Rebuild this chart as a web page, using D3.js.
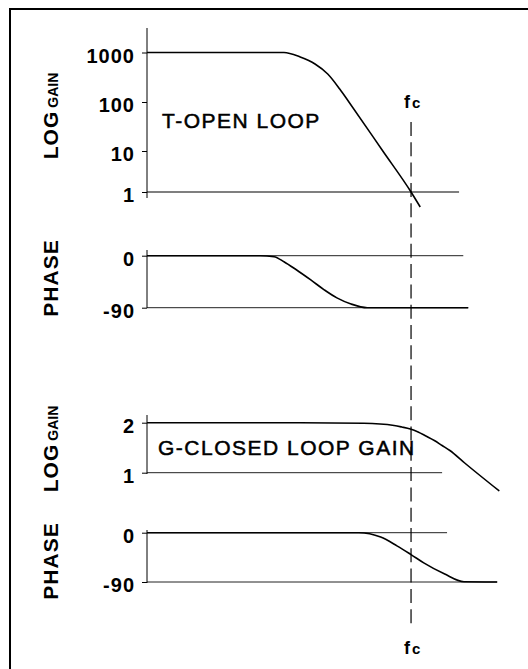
<!DOCTYPE html>
<html>
<head>
<meta charset="utf-8">
<script src="https://cdn.jsdelivr.net/npm/d3@7"></script>
<style>
    body { margin: 0; background: #fff; }
    svg { display: block; }
</style>
</head>
<body>
<div id="chart"></div>
<script>
// x is log frequency, in decades from the left axis
const xDomain = [0, 5];
const fc = 3.74;

// T - open loop gain
const openGainF = [0, 1.94, 2.17, 2.38, 2.56, 2.73, 2.86, 3.34, 3.74, 3.87];
const openGainV = [1000, 1000, 811, 586, 368, 183, 100, 10, 1, 0.43];
const openGainTicks = [1, 10, 100, 1000];

// T - open loop phase
const openPhaseF = [0, 1.6, 1.80, 1.94, 2.12, 2.32, 2.51, 2.69, 2.89, 3.12, 4.55];
const openPhaseV = [0, 0, -1.7, -10.4, -24.8, -42, -59, -73, -83.6, -90, -90];

// G - closed loop gain
const closedGainF = [0, 2.17, 3.07, 3.50, 3.61, 3.73, 3.84, 3.95, 4.07, 4.18, 4.29, 4.50, 4.99];
const closedGainV = [2, 2, 1.988, 1.944, 1.914, 1.874, 1.814, 1.734, 1.644, 1.544, 1.444, 1.194, 0.634];
const closedGainTicks = [1, 2];

// G - closed loop phase
const closedPhaseF = [0, 3.0, 3.31, 3.54, 3.74, 3.92, 4.21, 4.49, 4.96];
const closedPhaseV = [0, 0, -8, -24, -40, -55, -75, -89.5, -90];
const phaseTicks = [0, -90];

const width = 528, height = 669;
const font = '"Liberation Sans", Arial, Helvetica, sans-serif';

const svg = d3.select('#chart').append('svg')
    .attr('width', width)
    .attr('height', height);

// frame (top and left edges only)
svg.append('path')
    .attr('d', `M10,${height} V9 H${width}`)
    .attr('fill', 'none')
    .attr('stroke', '#000')
    .attr('stroke-width', 2);

const x = d3.scaleLinear().domain(xDomain).range([147, 500]);

const panels = [
    {
        title: ['LOG', 'GAIN'], titleY: 116,
        y: d3.scaleLog().domain([1, 10, 100, 1000]).range([192, 151, 102, 52.5]),
        ticks: openGainTicks, axisTop: 28, axisBottom: 198,
        grid: [[1, 4.42]], gridColor: '#555', gridWidth: 1.4,
        f: openGainF, v: openGainV,
        note: 'T-OPEN LOOP', noteX: 162, noteY: 128
    },
    {
        title: ['PHASE'], titleY: 278,
        y: d3.scaleLinear().domain([-90, 0]).range([307.7, 255.7]),
        ticks: phaseTicks, axisTop: 250, axisBottom: 308,
        grid: [[0, 4.48], [-90, 4.55]], gridColor: '#222', gridWidth: 1,
        f: openPhaseF, v: openPhaseV
    },
    {
        title: ['LOG', 'GAIN'], titleY: 449,
        y: d3.scaleLinear().domain([1, 2]).range([472.7, 422.7]),
        ticks: closedGainTicks, axisTop: 415, axisBottom: 474,
        grid: [[1, 4.18]], gridColor: '#222', gridWidth: 1,
        f: closedGainF, v: closedGainV,
        note: 'G-CLOSED LOOP GAIN', noteX: 158, noteY: 455
    },
    {
        title: ['PHASE'], titleY: 561,
        y: d3.scaleLinear().domain([-90, 0]).range([582, 532.7]),
        ticks: phaseTicks, axisTop: 530, axisBottom: 583,
        grid: [[0, 4.25], [-90, 4.96]], gridColor: '#222', gridWidth: 1,
        f: closedPhaseF, v: closedPhaseV
    }
];

panels.forEach(p => {
    const g = svg.append('g');

    // gridlines
    g.selectAll('.grid')
        .data(p.grid)
        .enter().append('line')
        .attr('class', 'grid')
        .attr('x1', x(0))
        .attr('x2', d => x(d[1]))
        .attr('y1', d => p.y(d[0]))
        .attr('y2', d => p.y(d[0]))
        .attr('stroke', p.gridColor)
        .attr('stroke-width', p.gridWidth);

    // vertical axis line
    g.append('line')
        .attr('x1', x(0)).attr('x2', x(0))
        .attr('y1', p.axisTop).attr('y2', p.axisBottom)
        .attr('stroke', '#000')
        .attr('stroke-width', 1);

    // ticks + labels
    const axis = d3.axisLeft(p.y)
        .tickValues(p.ticks)
        .tickSize(5)
        .tickSizeOuter(0)
        .tickPadding(7)
        .tickFormat(d => d);
    const ag = g.append('g')
        .attr('transform', `translate(${x(0)},0)`)
        .call(axis);
    ag.select('.domain').remove();
    ag.attr('font-family', font)
        .attr('font-size', 20)
        .attr('font-weight', 'bold');
    ag.selectAll('.tick line').attr('stroke', '#000');
    ag.selectAll('.tick text')
        .attr('dy', '0.48em')
        .attr('fill', '#000')
        .attr('letter-spacing', 1);

    // curve
    const line = d3.line()
        .x(d => x(d[0]))
        .y(d => p.y(d[1]))
        .curve(d3.curveMonotoneX);
    g.append('path')
        .datum(p.f.map((f, i) => [f, p.v[i]]))
        .attr('d', line)
        .attr('fill', 'none')
        .attr('stroke', '#000')
        .attr('stroke-width', 1.6);

    // rotated axis title
    const t = g.append('text')
        .attr('transform', `translate(58,${p.titleY}) rotate(-90)`)
        .attr('text-anchor', 'middle')
        .attr('font-family', font)
        .attr('font-weight', 'bold')
        .attr('fill', '#000');
    t.append('tspan')
        .attr('font-size', 21)
        .attr('letter-spacing', 1)
        .text(p.title[0]);
    if (p.title[1]) {
        t.append('tspan')
            .attr('font-size', 14)
            .attr('dx', 3)
            .text(p.title[1]);
    }

    // annotation
    if (p.note) {
        g.append('text')
            .attr('x', p.noteX)
            .attr('y', p.noteY)
            .attr('font-family', font)
            .attr('font-size', 21)
            .attr('letter-spacing', 1.5)
            .attr('fill', '#000')
            .attr('stroke', '#000')
            .attr('stroke-width', 0.5)
            .style('white-space', 'pre')
            .text(p.note);
    }
});

// crossover frequency marker
svg.append('line')
    .attr('x1', x(fc)).attr('x2', x(fc))
    .attr('y1', 122).attr('y2', 627)
    .attr('stroke', '#000')
    .attr('stroke-width', 1.2)
    .attr('stroke-dasharray', '14,6.3');

[108, 654].forEach(by => {
    const t = svg.append('text')
        .attr('x', x(fc) - 7)
        .attr('y', by)
        .attr('font-family', font)
        .attr('font-weight', 'bold')
        .attr('fill', '#000');
    t.append('tspan').attr('font-size', 18).text('f');
    t.append('tspan').attr('font-size', 15).attr('dx', 2).text('c');
});
</script>
</body>
</html>
